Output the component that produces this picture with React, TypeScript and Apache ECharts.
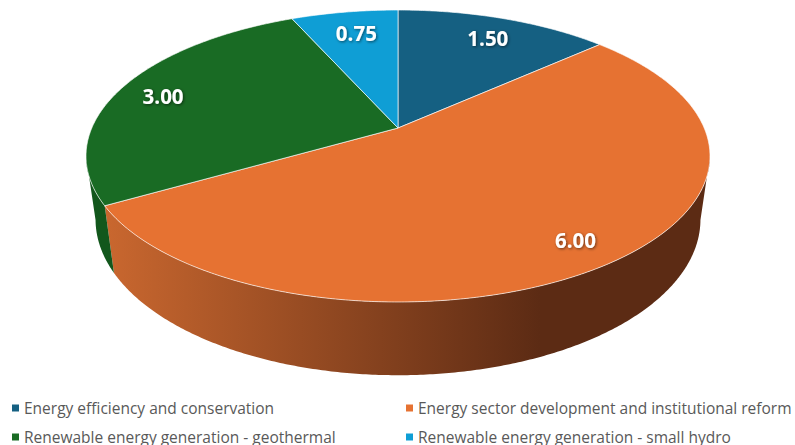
import React, { useEffect, useRef } from "react";
import * as echarts from "echarts";

const categories = [
  "Energy efficiency and conservation",
  "Energy sector development and institutional reform",
  "Renewable energy generation - geothermal",
  "Renewable energy generation - small hydro",
];
const values = [1.5, 6.0, 3.0, 0.75];
const colors = ["#156082", "#E67232", "#196B24", "#0F9ED5"];
const labelRadius = [0.8, 0.855, 0.838, 0.79];
const labelAngleShift = [0.7, 0, -1.3, 0.6];
const sideGradients: [string, string][] = [
  ["#0d3a4e", "#0d3a4e"],
  ["#C9672F", "#5C2B14"],
  ["#12571c", "#12571c"],
  ["#095f80", "#095f80"],
];
const legendLeft = [12, 406, 12, 406];
const legendTop = [398, 398, 427, 427];

// Perspective model of the disc
const CX = 398;
const topPlane = { y0: 128, a: 306.2, b: 140.6, k: 0.1918 };
const bottomPlane = { y0: 190, a: 297, b: 150.2, k: 0.189 };

type Plane = typeof topPlane;
const project = (p: Plane, thetaDeg: number, r = 1): [number, number] => {
  const t = (thetaDeg * Math.PI) / 180;
  const u = r * Math.sin(t);
  const v = r * Math.cos(t);
  const w = 1 + p.k * v;
  return [CX + (p.a * u) / w, p.y0 - (p.b * v) / w];
};

const arcPoints = (p: Plane, a0: number, a1: number) => {
  const pts: [number, number][] = [];
  const n = Math.max(2, Math.ceil(Math.abs(a1 - a0) * 2));
  for (let i = 0; i <= n; i++) pts.push(project(p, a0 + ((a1 - a0) * i) / n));
  return pts;
};

const total = values.reduce((s, v) => s + v, 0);
const starts = values.map((_, i) =>
  values.slice(0, i).reduce((s, v) => s + v, 0),
);

const tangent = (Math.acos(-topPlane.k) * 180) / Math.PI;

const renderSlice = (index: number) => (_params: any, api: any) => {
  const value = api.value(0) as number;
  const a0 = (starts[index] / total) * 360;
  const a1 = a0 + (value / total) * 360;
  const children: any[] = [];

  const w0 = Math.max(a0, tangent);
  const w1 = Math.min(a1, 360 - tangent);
  if (w1 > w0) {
    const pts = [
      ...arcPoints(topPlane, w0, w1),
      ...arcPoints(bottomPlane, w1, w0),
    ];
    children.push({
      type: "polygon",
      z2: 1,
      shape: { points: pts },
      style: {
        fill: new echarts.graphic.LinearGradient(
          106,
          0,
          540,
          0,
          [
            { offset: 0, color: sideGradients[index][0] },
            { offset: 1, color: sideGradients[index][1] },
          ],
          true,
        ),
        stroke: null,
      },
    });
  }

  children.push({
    type: "polygon",
    z2: 5,
    shape: {
      points: [[CX, topPlane.y0], ...arcPoints(topPlane, a0, a1)],
    },
    style: {
      fill: colors[index],
      stroke: "rgba(255,255,255,0.65)",
      lineWidth: 1,
      lineJoin: "round",
    },
  });

  const mid = (a0 + a1) / 2 + labelAngleShift[index];
  const [lx, ly] = project(topPlane, mid, labelRadius[index]);
  children.push({
    type: "text",
    z2: 10,
    style: {
      text: value.toFixed(2),
      x: lx,
      y: ly,
      align: "center",
      verticalAlign: "middle",
      fill: "#ffffff",
      font: 'bold 20.5px "Open Sans"',
      textShadowColor: "rgba(0,0,0,0.55)",
      textShadowBlur: 3,
      textShadowOffsetX: 1,
      textShadowOffsetY: 1,
    },
  });
  return { type: "group", children };
};

export default function App() {
  const ref = useRef<HTMLDivElement>(null);
  useEffect(() => {
    document.body.style.margin = "0";
    const chart = echarts.init(ref.current!, undefined, { renderer: "svg" });
    chart.setOption({
      animation: false,
      backgroundColor: "#ffffff",
      legend: categories.map((name, i) => ({
        orient: "horizontal",
        icon: "rect",
        itemWidth: 7,
        itemHeight: 7,
        padding: 0,
        selectedMode: false,
        left: legendLeft[i],
        top: legendTop[i],
        data: [name],
        textStyle: {
          color: "#595959",
          fontFamily: "Open Sans",
          fontSize: 15.5,
          lineHeight: 20,
        },
      })),
      series: categories.map((name, i) => ({
        type: "custom",
        name,
        coordinateSystem: "none",
        silent: true,
        clip: false,
        itemStyle: { color: colors[i] },
        data: [[values[i]]],
        renderItem: renderSlice(i),
      })),
    });
    return () => chart.dispose();
  }, []);
  return (
    <div
      ref={ref}
      style={{ position: "fixed", left: 0, top: 0, width: 795, height: 445 }}
    />
  );
}
